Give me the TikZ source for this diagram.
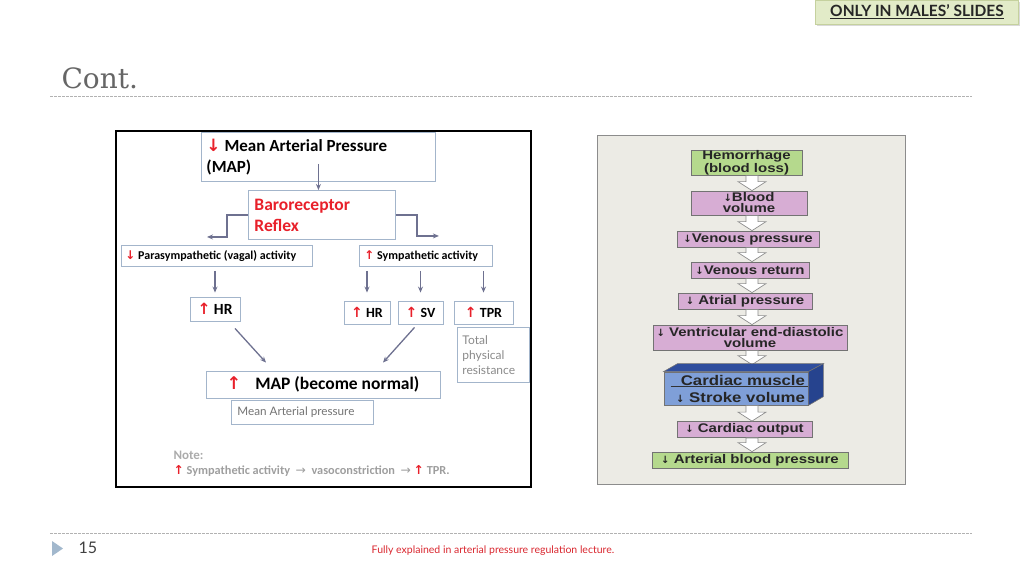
\documentclass[tikz,border=0pt]{standalone}
\usepackage{fontspec}
\setmainfont{Carlito}
\newfontfamily\helv[FakeStretch=1.2]{Liberation Sans}
\newfontfamily\lato{Lato}
\newfontfamily\dejavu{DejaVu Sans}
\newfontfamily\dserif{DejaVu Serif}
\usetikzlibrary{calc}
\usetikzlibrary{arrows.meta}
\usetikzlibrary{shadows}
\definecolor{mred}{HTML}{E8202A}
\definecolor{boxline}{HTML}{A3B5CB}
\definecolor{flowgray}{HTML}{6E7190}
\definecolor{txtgray}{HTML}{8A8A8A}
\definecolor{panel}{HTML}{ECEBE5}
\definecolor{hgreen}{HTML}{B5D98D}
\definecolor{hpink}{HTML}{D7ADD4}
\definecolor{cfront}{HTML}{7F9FD8}
\definecolor{ctop}{HTML}{2F4E9E}
\definecolor{cside}{HTML}{26438E}
\definecolor{badgefill}{HTML}{E2EBC8}
\definecolor{badgeline}{HTML}{C5D19E}
\definecolor{pblue}{HTML}{A2B8CD}
\definecolor{fred}{HTML}{D9262E}
\newcommand\fsz[2]{\fontsize{#1}{#2}\selectfont}
\newcommand\redup{{\color{mred}\dejavu\bfseries ↑}}
\newcommand\reddown{{\color{mred}\dejavu\bfseries ↓}}
\newcommand\darr{{\dejavu\bfseries\fsz{10}{10}↓}}
\tikzset{
	wh/.style 2 args={minimum width=#1pt, minimum height=#2pt},
	lbox/.style={draw=boxline, line width=0.9pt, inner sep=0pt},
	flow/.style={draw=flowgray, line width=1.3pt, -{Stealth[length=6pt,width=5pt]}},
	rbox/.style={draw=black!55, line width=0.8pt, inner sep=0pt, align=center,
		font=\helv\bfseries\fsz{12.5}{11}, text=black!85},
	blockarr/.style={draw=black!45, fill=white, line width=0.7pt,
		to path={let \p1=(\tikztostart), \p2=(\tikztotarget) in
			(\x1-6pt,\y1) -- (\x1-6pt,\y2+9pt) -- (\x1-14pt,\y2+9pt) -- (\x1,\y2)
			-- (\x1+14pt,\y2+9pt) -- (\x1+6pt,\y2+9pt) -- (\x1+6pt,\y1) -- cycle}},
	rule/.style={draw=black!30, line width=0.8pt, dash pattern=on 2.5pt off 1.5pt},
	badge/.style={fill=badgefill, draw=badgeline, line width=0.8pt,
		drop shadow={shadow xshift=1pt, shadow yshift=-2pt, opacity=0.3},
		font=\lato\bfseries\fsz{15.5}{15}, text=black!85}
}
\begin{document}
\begin{tikzpicture}[x=1pt,y=-1pt]
\useasboundingbox (0,0) rectangle (1024,576);

% slide frame
\node[badge, wh={203}{24}] (badge) at (917,12) {\underline{ONLY IN MALES’ SLIDES}};
\node[anchor=base west, font=\dserif\fsz{28}{28}, text=black!60] (title) at (58,88) {Cont.};
\draw[rule] (50,96) -- (972,96);
\draw[rule] (50,533) -- (972,533);
\fill[pblue] (52,541) -- (63,548.5) -- (52,556) -- cycle;
\node[anchor=west, font=\lato\fsz{16}{16}, text=black!75] (pg) at (75,548) {15};
\node[font=\lato\fsz{10.5}{11}, text=fred] (foot) at (493,551) {Fully explained in arterial pressure regulation lecture.};

% left diagram
\draw[line width=2pt] (116,131) rectangle (531,487);
\node[lbox, anchor=north west, minimum height=49pt, inner xsep=5pt, text width=224pt, align=flush left,
	font=\bfseries\fsz{17}{21}] (map) at (201,132) {\reddown\ Mean Arterial Pressure\\(MAP)};
\node[lbox, anchor=north west, minimum height=49pt, inner xsep=6pt, text width=135pt, align=flush left,
	font=\bfseries\fsz{17.5}{21}, text=mred] (baro) at (248,190) {Baroreceptor\\Reflex};
\node[lbox, anchor=north west, minimum height=21pt, inner xsep=4pt, text width=183pt, align=flush left,
	font=\bfseries\fsz{12}{12}] (para) at (121,245) {\reddown\ Parasympathetic (vagal) activity};
\node[lbox, anchor=north west, minimum height=21pt, inner xsep=5pt, text width=123pt, align=flush left,
	font=\bfseries\fsz{12}{12}] (symp) at (359,245) {\redup\ Sympathetic activity};
\node[lbox, wh={50}{24}, font=\bfseries\fsz{15.5}{15}] (hrl) at (215,309) {\redup\ HR};
\node[lbox, wh={46}{23}, font=\bfseries\fsz{14}{14}] (hr) at (367,312.5) {\redup\ HR};
\node[lbox, wh={45}{23}, font=\bfseries\fsz{14}{14}] (sv) at (420.5,312.5) {\redup\ SV};
\node[lbox, wh={59}{23}, font=\bfseries\fsz{14}{14}] (tpr) at (483.5,312.5) {\redup\ TPR};
\node[lbox, anchor=north west, minimum height=55pt, inner xsep=5pt, text width=62pt, align=flush left,
	font=\lato\fsz{12}{15}, text=txtgray] (tot) at (457,327) {Total\\physical\\resistance};
\node[lbox, wh={234}{27}, font=\bfseries\fsz{17.5}{17}] (mapn) at (323,384.5) {\redup\hspace{14pt}MAP (become normal)};
\node[lbox, anchor=north west, minimum height=24pt, inner xsep=6pt, text width=130pt, align=flush left,
	font=\lato\fsz{11.7}{12}, text=black!55] (mean) at (231,400) {Mean Arterial pressure};
\node[anchor=base west, font=\bfseries\fsz{13}{13}, text=black!33] (note) at (170,459) {Note:};
\node[anchor=base west, font=\bfseries\fsz{12.3}{12}, text=black!38] (noteline) at (170,474)
	{\redup\ Sympathetic activity\ \ {\dejavu\mdseries →}\ \ vasoconstriction\ \ {\dejavu\mdseries →}\ \redup\ TPR.};

\draw[flow, shorten <=-18pt] (map.south) -- (map.south |- baro.north);
\draw[flow] (baro.west) -- ++(-21,0) -- ++(0,22) -- ++(-20,0);
\draw[flow] (baro.east) -- ++(21,0) -- ++(0,21) -- ++(22,0);
\draw[flow, shorten <=4pt, shorten >=4pt] (para.south -| hrl) -- (hrl.north);
\foreach \n in {hr,sv,tpr}
	\draw[flow, shorten <=4pt, shorten >=8pt] (symp.south -| \n) -- (\n.north);
\draw[flow] ($(hrl.south)+(20,7)$) -- ($(mapn.north)+(-57,-8)$);
\draw[flow] ($(sv.south)+(-6,3)$) -- ($(mapn.north)+(60,-8)$);

% right diagram
\draw[draw=black!45, fill=panel, line width=1pt] (597,135) rectangle (905,484);
\coordinate (col) at (752,0);
\node[rbox, fill=hgreen, wh={111}{24}] (hem) at (746.5,163) {Hemorrhage\\(blood loss)};
\node[rbox, fill=hpink, wh={116}{24}] (bv) at (749,203) {\darr Blood\\volume};
\node[rbox, fill=hpink, wh={142}{16}] (vp) at (748,239) {\darr Venous pressure};
\node[rbox, fill=hpink, wh={118}{16}] (vr) at (750,270) {\darr Venous return};
\node[rbox, fill=hpink, wh={134}{16}] (ap) at (745,301) {\darr\ Atrial pressure};
\node[rbox, fill=hpink, wh={194}{25}] (ved) at (750,337.5) {\darr\ Ventricular end-diastolic\\volume};
\node[rbox, fill=cfront, wh={144}{33}, inner xsep=3pt, text width=138pt, align=right,
	font=\helv\bfseries\fsz{14}{17}] (cm) at (736,388.5) {Cardiac muscle\\\darr\ Stroke volume};
\node[rbox, fill=hpink, wh={135}{16}] (co) at (744.5,429.5) {\darr\ Cardiac output};
\node[rbox, fill=hgreen, wh={196}{16}] (abp) at (750,460) {\darr\ Arterial blood pressure};

\draw[blockarr] (hem.south -| col) to (bv.north -| col);
\draw[blockarr] (bv.south -| col) to (vp.north -| col);
\draw[blockarr] (vp.south -| col) to (vr.north -| col);
\draw[blockarr] (vr.south -| col) to (ap.north -| col);
\draw[blockarr] (ap.south -| col) to (ved.north -| col);
\draw[blockarr] (ved.south -| col) to ([yshift=7pt]cm.north -| col);
\draw[blockarr] (cm.south -| col) to (co.north -| col);
\draw[blockarr] (co.south -| col) to (abp.north -| col);

\filldraw[fill=ctop, draw=black!55, line width=0.6pt] (cm.north west) -- ++(14,-8) -- ($(cm.north east)+(15,-8)$) -- (cm.north east) -- cycle;
\filldraw[fill=cside, draw=black!55, line width=0.6pt] (cm.north east) -- ++(15,-8) -- ++(0,33) -- (cm.south east) -- cycle;
\draw[line width=1pt, black!80] ($(cm.west)+(7,-2.5)$) -- ($(cm.east)+(0,-2.5)$);
\end{tikzpicture}
\end{document}
